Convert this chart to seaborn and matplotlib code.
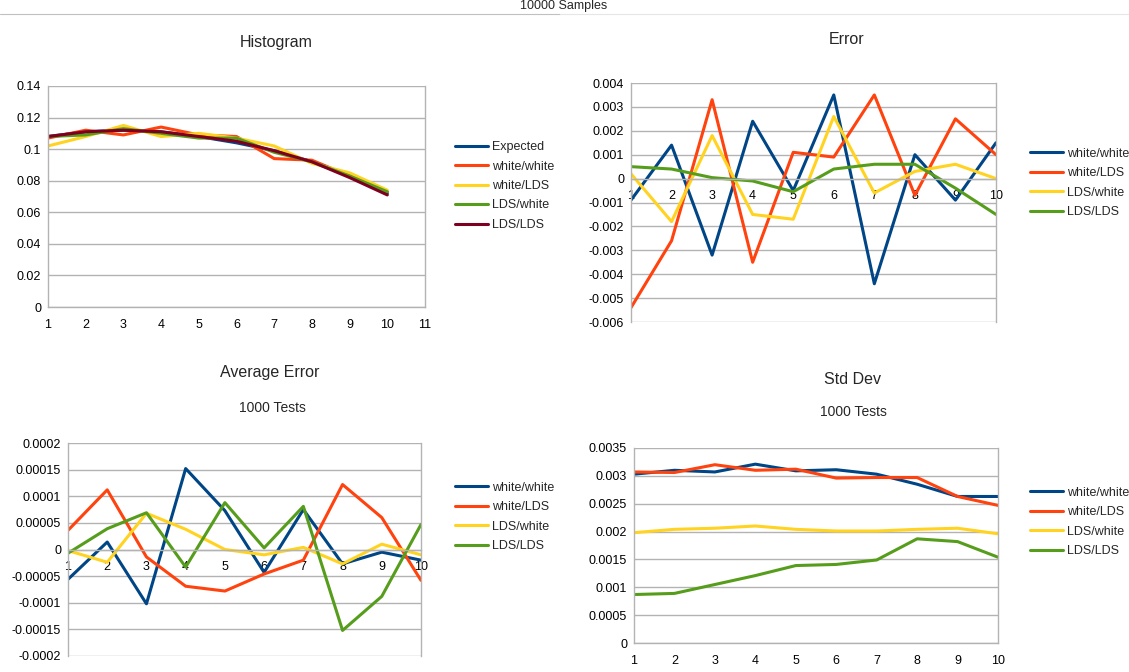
import numpy as np
import pandas as pd
import matplotlib
matplotlib.use("Agg")
import matplotlib.pyplot as plt
import seaborn as sns
from matplotlib.ticker import FixedLocator, FuncFormatter

# Data
bins = [1, 2, 3, 4, 5, 6, 7, 8, 9, 10]

hist_expected = [0.108, 0.111, 0.112, 0.111, 0.108, 0.104, 0.099, 0.092, 0.083, 0.072]
hist_white_white = [0.107, 0.112, 0.109, 0.114, 0.109, 0.108, 0.094, 0.093, 0.083, 0.073]
hist_white_lds = [0.102, 0.108, 0.115, 0.108, 0.110, 0.107, 0.102, 0.091, 0.085, 0.074]
hist_lds_white = [0.108, 0.109, 0.113, 0.110, 0.107, 0.107, 0.098, 0.092, 0.083, 0.073]
hist_lds_lds = [0.108, 0.111, 0.112, 0.111, 0.108, 0.105, 0.099, 0.092, 0.082, 0.071]

err_white_white = [-0.0009, 0.0014, -0.0032, 0.0024, -0.0005, 0.0035, -0.0044, 0.0010, -0.0009, 0.0015]
err_white_lds = [-0.0054, -0.0026, 0.0033, -0.0035, 0.0011, 0.0009, 0.0035, -0.0007, 0.0025, 0.0010]
err_lds_white = [0.0002, -0.0018, 0.0018, -0.0015, -0.0017, 0.0026, -0.0006, 0.0003, 0.0006, 0.0]
err_lds_lds = [0.0005, 0.0004, 0.00004, -0.0001, -0.00055, 0.0004, 0.0006, 0.0006, -0.0004, -0.0015]

avg_white_white = [-0.000056, 0.000014, -0.000102, 0.000152, 0.000073, -0.000043, 0.000075, -0.000027, -0.000005, -0.00002]
avg_white_lds = [0.000036, 0.000112, -0.000014, -0.000069, -0.000078, -0.000046, -0.00002, 0.000122, 0.00006, -0.000058]
avg_lds_white = [-0.000002, -0.000024, 0.000068, 0.000038, 0.0, -0.00001, 0.000004, -0.000027, 0.00001, -0.00001]
avg_lds_lds = [-0.000007, 0.000039, 0.000069, -0.000033, 0.000088, 0.000003, 0.000081, -0.000152, -0.000088, 0.000047]

std_white_white = [0.00303, 0.00310, 0.00307, 0.00321, 0.00309, 0.00311, 0.00303, 0.00285, 0.00263, 0.00263]
std_white_lds = [0.00307, 0.00306, 0.00320, 0.00310, 0.00312, 0.00296, 0.00297, 0.00297, 0.00263, 0.00247]
std_lds_white = [0.00198, 0.00204, 0.00206, 0.00210, 0.00204, 0.00201, 0.00201, 0.00204, 0.00206, 0.00196]
std_lds_lds = [0.00087, 0.00089, 0.00105, 0.00121, 0.00139, 0.00141, 0.00149, 0.00187, 0.00182, 0.00154]

blue, orange, yellow, green, maroon = "#004586", "#ff420e", "#ffd320", "#579d1c", "#7e0021"
grid_col = "#b3b3b3"

sns.set_style("white")
plt.rcParams["font.family"] = ["Liberation Sans", "DejaVu Sans"]

W, H = 1129, 672
fig = plt.figure(figsize=(W / 100, H / 100), dpi=100)


def px_axes(left, top, right, bottom):
    return fig.add_axes([left / W, 1 - bottom / H, (right - left) / W, (bottom - top) / H])


def fmt(v, pos):
    return np.format_float_positional(round(v, 7), trim="-")


def style(ax, yticks, xmax, zero_axis=False):
    ax.set_ylim(yticks[0], yticks[-1])
    ax.set_xlim(1, xmax)
    ax.yaxis.set_major_locator(FixedLocator(yticks))
    ax.yaxis.set_major_formatter(FuncFormatter(fmt))
    ax.xaxis.set_major_locator(FixedLocator(list(range(1, xmax + 1))))
    ax.grid(axis="y", color=grid_col, lw=1)
    ax.grid(axis="x", visible=False)
    for s in ["left", "right", "bottom"]:
        ax.spines[s].set_color(grid_col)
        ax.spines[s].set_linewidth(1)
    ax.spines["top"].set_visible(False)
    if zero_axis:
        ax.spines["bottom"].set_position(("data", 0))
    ax.tick_params(axis="both", labelsize=9, colors="black", length=3, width=1,
                   color=grid_col, pad=2, direction="out")
    ax.tick_params(axis="x", pad=5.5)
    ax.set_xlabel("")
    ax.set_ylabel("")
    ax.set_axisbelow(True)


def draw(ax, series):
    for vals, col, lab in series:
        sns.lineplot(x=bins, y=vals, ax=ax, color=col, lw=2.2, label=lab)


def legend(ax, x, y):
    ax.legend(loc="center left", bbox_to_anchor=(x / W, 1 - y / H), bbox_transform=fig.transFigure,
              frameon=False, fontsize=9, handlelength=2.6, handletextpad=0.35,
              labelspacing=0.6, borderpad=0, borderaxespad=0)


# Histogram
ax1 = px_axes(48, 86, 425, 307)
draw(ax1, [(hist_expected, blue, "Expected"), (hist_white_white, orange, "white/white"),
           (hist_white_lds, yellow, "white/LDS"), (hist_lds_white, green, "LDS/white"),
           (hist_lds_lds, maroon, "LDS/LDS")])
style(ax1, [0, 0.02, 0.04, 0.06, 0.08, 0.1, 0.12, 0.14], 11)
legend(ax1, 455, 186)

labels4 = ["white/white", "white/LDS", "LDS/white", "LDS/LDS"]

# Error
ax2 = px_axes(631, 83, 996, 322)
draw(ax2, zip([err_white_white, err_white_lds, err_lds_white, err_lds_lds],
              [blue, orange, yellow, green], labels4))
style(ax2, [-0.006, -0.005, -0.004, -0.003, -0.002, -0.001, 0, 0.001, 0.002, 0.003, 0.004], 10, zero_axis=True)
legend(ax2, 1030, 183)

# Average error
ax3 = px_axes(68, 443, 421, 656)
draw(ax3, zip([avg_white_white, avg_white_lds, avg_lds_white, avg_lds_lds],
              [blue, orange, yellow, green], labels4))
style(ax3, [-0.0002, -0.00015, -0.0001, -0.00005, 0, 0.00005, 0.0001, 0.00015, 0.0002], 10, zero_axis=True)
legend(ax3, 455, 517)

# Std dev
ax4 = px_axes(634, 448, 998, 643)
draw(ax4, zip([std_white_white, std_white_lds, std_lds_white, std_lds_lds],
              [blue, orange, yellow, green], labels4))
style(ax4, [0, 0.0005, 0.001, 0.0015, 0.002, 0.0025, 0.003, 0.0035], 10)
legend(ax4, 1030, 522)

# Titles
fig.text(564 / W, 1 - 6 / H, "10000 Samples", ha="center", va="center", fontsize=9)
fig.add_artist(plt.Line2D([0, 560 / W], [1 - 14 / H, 1 - 14 / H], color="#c0c0c0", lw=0.8))
fig.add_artist(plt.Line2D([560 / W, 1], [1 - 14 / H, 1 - 14 / H], color="#e6e6e6", lw=0.8))
fig.text(276 / W, 1 - 42 / H, "Histogram", ha="center", va="center", fontsize=11.5)
fig.text(847 / W, 1 - 40 / H, "Error", ha="center", va="center", fontsize=11.5)
fig.text(270 / W, 1 - 373 / H, "Average Error", ha="center", va="center", fontsize=11.5)
fig.text(272 / W, 1 - 408 / H, "1000 Tests", ha="center", va="center", fontsize=10)
fig.text(853 / W, 1 - 380 / H, "Std Dev", ha="center", va="center", fontsize=11.5)
fig.text(853 / W, 1 - 412 / H, "1000 Tests", ha="center", va="center", fontsize=10)

fig.savefig("out.png", dpi=100)
